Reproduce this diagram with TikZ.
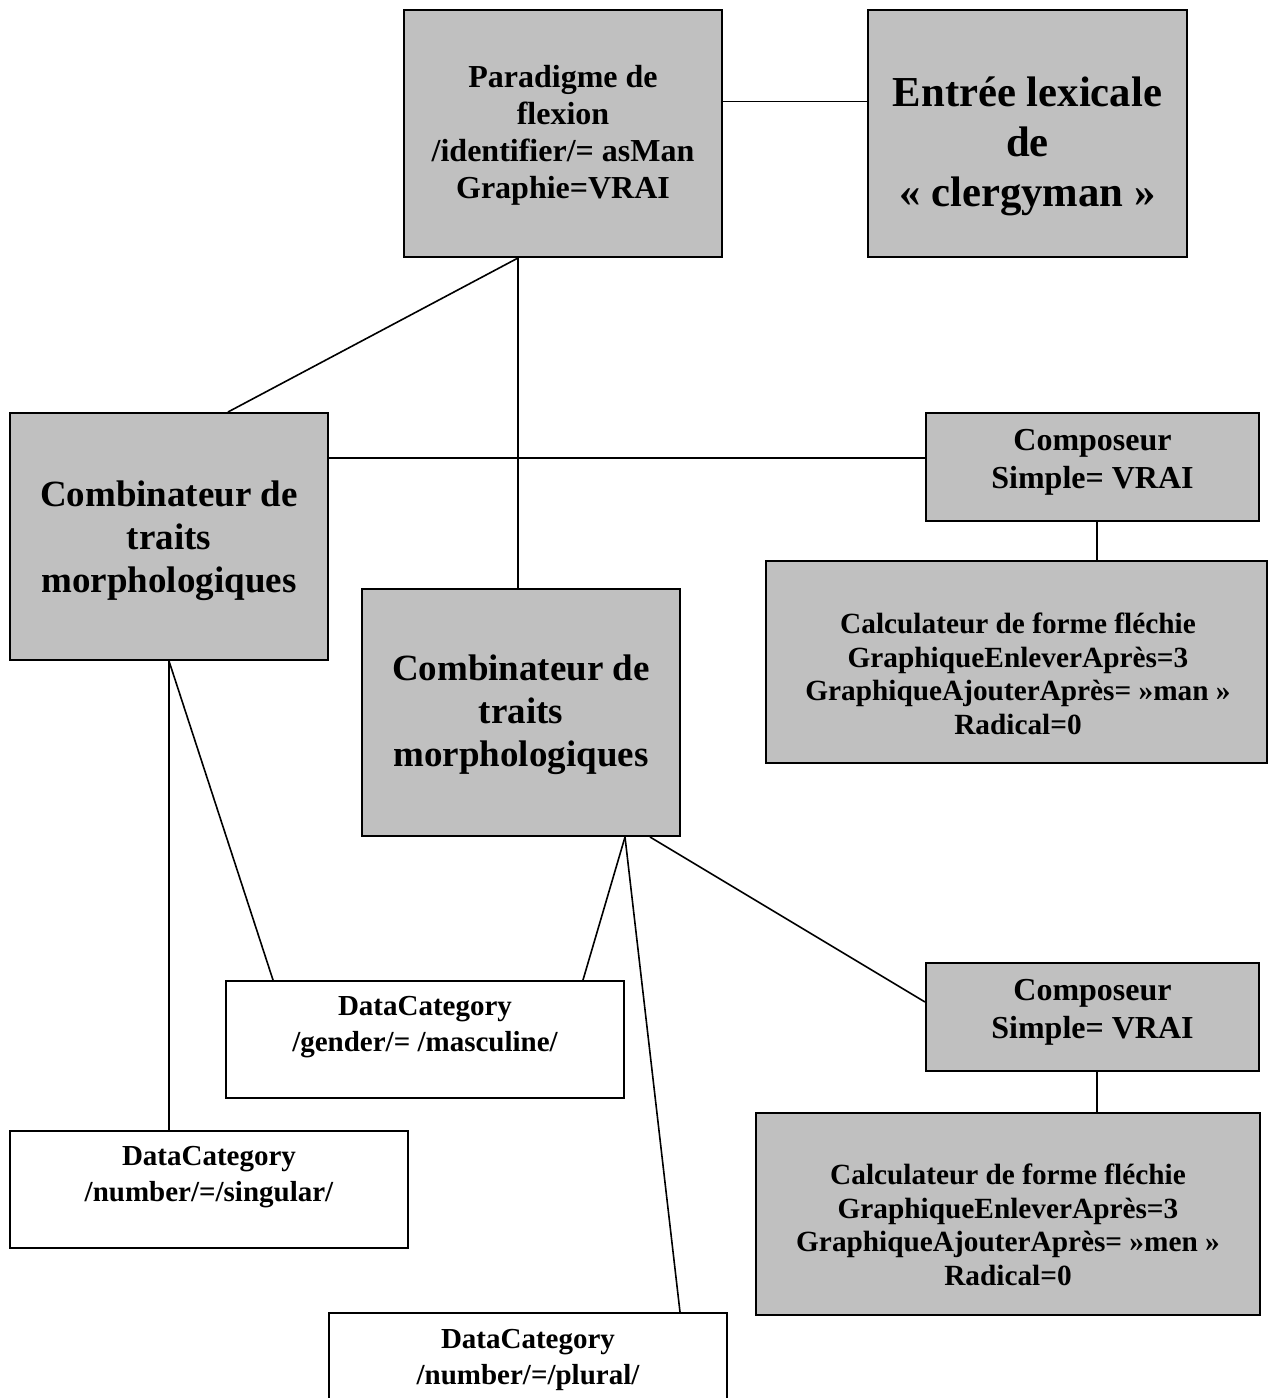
\documentclass[tikz,border=0pt]{standalone}
\usepackage{fontspec}
\setmainfont{Liberation Serif}
\usetikzlibrary{calc}
\definecolor{boxgray}{HTML}{C0C0C0}
\begin{document}
\begin{tikzpicture}[x=1pt,y=-1pt,
  gbox/.style={draw=black, line width=2pt, fill=boxgray, rectangle, inner sep=0pt},
  wbox/.style={draw=black, line width=2pt, fill=white, rectangle, inner sep=0pt},
  conn/.style={draw=black, line width=1.6pt},
  tpara/.style={font=\bfseries\fontsize{32}{37}\selectfont, align=center, inner sep=0pt},
  tbig/.style={font=\bfseries\fontsize{42.7}{50}\selectfont, align=center, inner sep=0pt},
  tcomb/.style={font=\bfseries\fontsize{37}{43}\selectfont, align=center, inner sep=0pt},
  tcomp/.style={font=\bfseries\fontsize{32}{38}\selectfont, align=center, inner sep=0pt},
  tcalc/.style={font=\bfseries\fontsize{29.3}{33.6}\selectfont, align=center, inner sep=0pt},
  tdata/.style={font=\bfseries\fontsize{29}{36}\selectfont, align=center, inner sep=0pt}]
\useasboundingbox (0,0) rectangle (1268,1398);
\clip (0,0) rectangle (1268,1398);

% boxes
\node[gbox, minimum width=318pt, minimum height=247pt] (para) at (563,133.5) {};
\node[gbox, minimum width=319pt, minimum height=247pt] (entree) at (1027.5,133.5) {};
\node[gbox, minimum width=318pt, minimum height=247pt] (combL) at (169,536.5) {};
\node[gbox, minimum width=333pt, minimum height=108pt] (compT) at (1092.5,467) {};
\node[gbox, minimum width=501pt, minimum height=202pt] (calcT) at (1016.5,662) {};
\node[gbox, minimum width=318pt, minimum height=247pt] (combM) at (521,712.5) {};
\node[gbox, minimum width=333pt, minimum height=108pt] (compB) at (1092.5,1017) {};
\node[wbox, minimum width=398pt, minimum height=117pt] (gender) at (425,1039.5) {};
\node[wbox, minimum width=398pt, minimum height=117pt] (singular) at (209,1189.5) {};
\node[gbox, minimum width=504pt, minimum height=202pt] (calcB) at (1008,1214) {};
\node[wbox, minimum width=398pt, minimum height=117pt] (plural) at (528,1371.5) {};

% texts
\node[tpara] (paraT) at (563,135) {Paradigme de\\flexion\\/identifier/= asMan\\Graphie=VRAI};
\node[tbig] (entreeT) at (1027.5,146) {Entrée lexicale\\de\\« clergyman »};
\node[tcomb] (combLT) at (169,541) {Combinateur de\\traits\\morphologiques};
\node[tcomp] (compTT) at (1092.5,462) {Composeur\\Simple= VRAI};
\node[tcalc] (calcTT) at (1018,674) {Calculateur de forme fléchie\\GraphiqueEnleverAprès=3\\GraphiqueAjouterAprès= »man »\\Radical=0};
\node[tcomb] (combMT) at (521,715) {Combinateur de\\traits\\morphologiques};
\node[tcomp] (compBT) at (1092.5,1012) {Composeur\\Simple= VRAI};
\node[tdata] (genderT) at (425,1027) {DataCategory\\/gender/= /masculine/};
\node[tdata] (singularT) at (209,1177) {DataCategory\\/number/=/singular/};
\node[tcalc] (calcBT) at (1008,1225) {Calculateur de forme fléchie\\GraphiqueEnleverAprès=3\\GraphiqueAjouterAprès= »men »\\Radical=0};
\node[tdata] (pluralT) at (528,1360) {DataCategory\\/number/=/plural/};

% connectors
\draw[conn] ([yshift=32pt]para.east) -- ([yshift=32pt]entree.west);
\draw[conn] ([xshift=-45pt]para.south) -- ([xshift=59pt]combL.north);
\draw[conn] ([xshift=-45pt]para.south) -- ([xshift=-3pt]combM.north);
\draw[conn] ([yshift=9pt]compT.west) -- ([yshift=9pt]compT.west -| combL.east);
\draw[conn] ([xshift=4.5pt]compT.south) -- ([xshift=4.5pt]compT.south |- calcT.north);
\draw[conn] (combL.south) -- (combL.south |- singular.north);
\draw[conn] (combL.south) -- ([xshift=-152pt]gender.north);
\draw[conn] ([xshift=104pt]combM.south) -- ([xshift=158pt]gender.north);
\draw[conn] ([xshift=104pt]combM.south) -- ([xshift=152pt]plural.north);
\draw[conn] ([xshift=129pt]combM.south) -- ([yshift=15pt]compB.west);
\draw[conn] ([xshift=4.5pt]compB.south) -- ([xshift=4.5pt]compB.south |- calcB.north);
\end{tikzpicture}
\end{document}
